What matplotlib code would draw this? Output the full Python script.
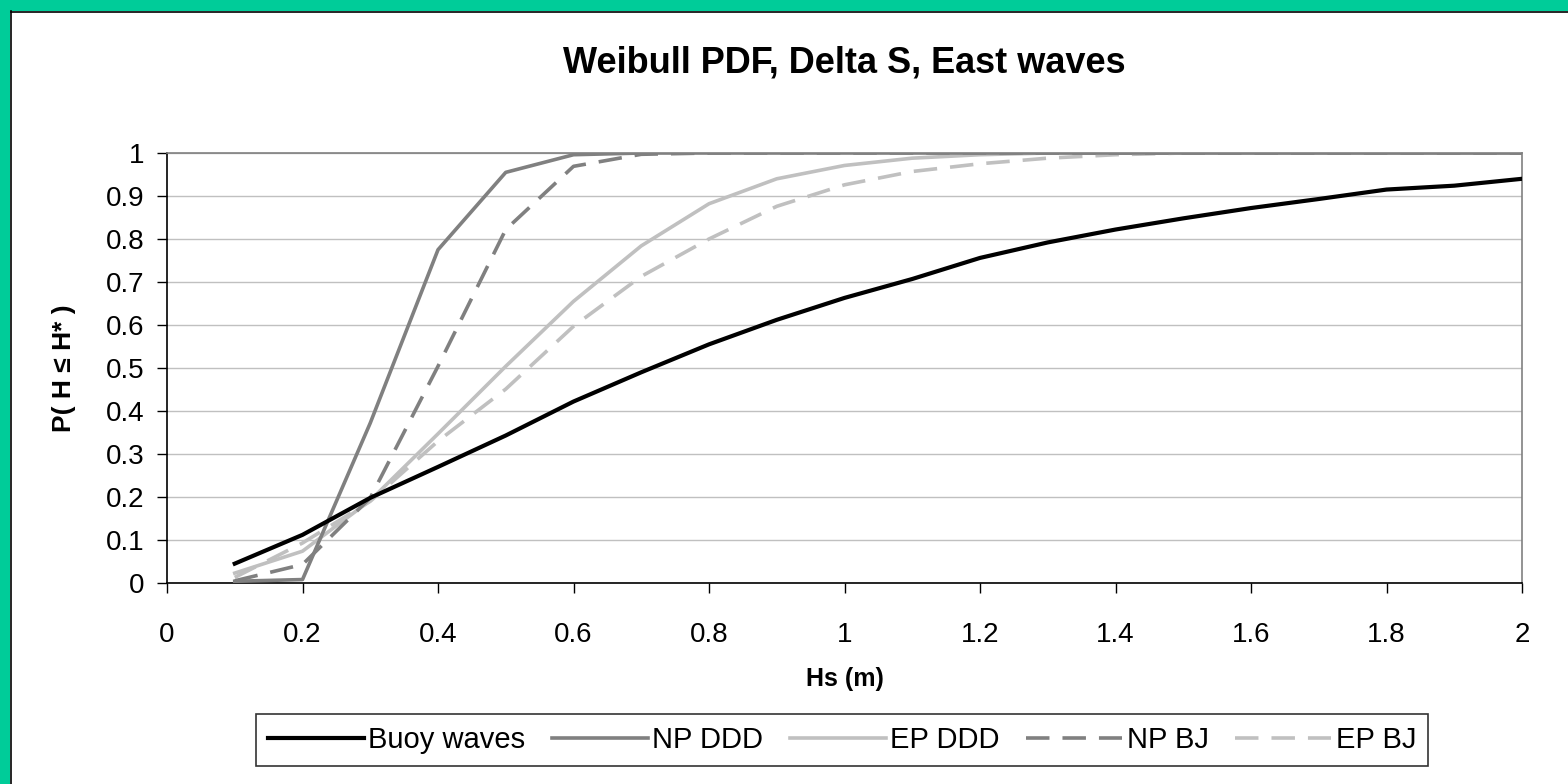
import numpy as np
import matplotlib
matplotlib.use('Agg')
import matplotlib.pyplot as plt
from matplotlib.patches import Rectangle
from matplotlib.lines import Line2D

plt.rcParams['font.family'] = ['Liberation Sans', 'DejaVu Sans']

hs = [0.1, 0.2, 0.3, 0.4, 0.5, 0.6, 0.7, 0.8, 0.9, 1.0,
      1.1, 1.2, 1.3, 1.4, 1.5, 1.6, 1.7, 1.8, 1.9, 2.0]

buoy = [0.045, 0.112, 0.198, 0.270, 0.343, 0.422, 0.490, 0.555, 0.612, 0.663,
        0.707, 0.756, 0.792, 0.822, 0.848, 0.872, 0.893, 0.915, 0.924, 0.940]
np_ddd = [0.004, 0.008, 0.372, 0.775, 0.955, 0.996, 1.0, 1.0, 1.0, 1.0,
          1.0, 1.0, 1.0, 1.0, 1.0, 1.0, 1.0, 1.0, 1.0, 1.0]
ep_ddd = [0.023, 0.074, 0.192, 0.347, 0.504, 0.655, 0.784, 0.882, 0.940, 0.971,
          0.988, 0.996, 1.0, 1.0, 1.0, 1.0, 1.0, 1.0, 1.0, 1.0]
np_bj = [0.005, 0.043, 0.198, 0.504, 0.822, 0.969, 0.997, 1.0, 1.0, 1.0,
         1.0, 1.0, 1.0, 1.0, 1.0, 1.0, 1.0, 1.0, 1.0, 1.0]
ep_bj = [0.013, 0.093, 0.190, 0.330, 0.451, 0.597, 0.713, 0.800, 0.876, 0.926,
         0.957, 0.975, 0.988, 0.996, 1.0, 1.0, 1.0, 1.0, 1.0, 1.0]

x_ticks = [0, 0.2, 0.4, 0.6, 0.8, 1, 1.2, 1.4, 1.6, 1.8, 2]
x_labels = ['0', '0.2', '0.4', '0.6', '0.8', '1', '1.2', '1.4', '1.6', '1.8', '2']
y_ticks = [0, 0.1, 0.2, 0.3, 0.4, 0.5, 0.6, 0.7, 0.8, 0.9, 1]
y_labels = ['0', '0.1', '0.2', '0.3', '0.4', '0.5', '0.6', '0.7', '0.8', '0.9', '1']

fig = plt.figure(figsize=(15.68, 7.84), dpi=100)
fig.patch.set_facecolor('white')

# green slide frame on the left and top
W, H = 1568, 784
fig.patches.append(Rectangle((0, 0), 10 / W, 1, transform=fig.transFigure,
                             facecolor='#00CC99', edgecolor='none', zorder=0))
fig.patches.append(Rectangle((0, 1 - 11 / H), 1, 11 / H, transform=fig.transFigure,
                             facecolor='#00CC99', edgecolor='none', zorder=0))
fig.add_artist(Line2D([10.5 / W, 10.5 / W], [0, 1 - 11 / H], transform=fig.transFigure,
                      color='black', lw=1.2))
fig.add_artist(Line2D([10.5 / W, 1], [1 - 11.5 / H, 1 - 11.5 / H], transform=fig.transFigure,
                      color='black', lw=1.2))

ax = fig.add_axes([167 / W, 1 - 583 / H, (1522 - 167) / W, (583 - 153) / H])

lw = 2.6
dash = (6.5, 3.6)
ax.plot(hs, buoy, color='black', lw=lw + 0.4, label='Buoy waves', zorder=6)
ax.plot(hs, np_ddd, color='#808080', lw=lw, label='NP DDD', zorder=5)
ax.plot(hs, ep_ddd, color='#C0C0C0', lw=lw, label='EP DDD', zorder=3)
ax.plot(hs, np_bj, color='#808080', lw=lw, dashes=dash, label='NP BJ', zorder=4)
ax.plot(hs, ep_bj, color='#C0C0C0', lw=lw, dashes=dash, label='EP BJ', zorder=2)

ax.set_xlim(0, 2)
ax.set_ylim(0, 1)
ax.set_xticks(x_ticks)
ax.set_xticklabels(x_labels)
ax.set_yticks(y_ticks)
ax.set_yticklabels(y_labels)
ax.tick_params(axis='both', direction='out', length=7, width=1, labelsize=20, colors='black')
ax.tick_params(axis='y', pad=9)
ax.tick_params(axis='x', pad=21)

ax.yaxis.grid(True, color='#C0C0C0', lw=1)
ax.set_axisbelow(True)
for side in ['left', 'bottom']:
    ax.spines[side].set_color('black')
    ax.spines[side].set_linewidth(1.2)
for side in ['top', 'right']:
    ax.spines[side].set_color('#808080')
    ax.spines[side].set_linewidth(1.2)

ax.set_xlabel('Hs (m)', fontsize=18, fontweight='bold', labelpad=14)
ax.set_ylabel('P( H ≤ H* )', fontsize=19, fontweight='bold', labelpad=22)
ax.set_title('Weibull PDF, Delta S, East waves', fontsize=26, fontweight='bold', pad=58)

leg = fig.legend(loc='center', bbox_to_anchor=(842 / W, 1 - 740 / H), ncol=5,
                 fontsize=21, frameon=True, fancybox=False, handlelength=3.3,
                 handletextpad=0.15, columnspacing=0.9, borderpad=0.4,
                 borderaxespad=0)
leg.get_frame().set_edgecolor('black')
leg.get_frame().set_linewidth(1.2)

fig.savefig('out.png', dpi=100, facecolor='white')
